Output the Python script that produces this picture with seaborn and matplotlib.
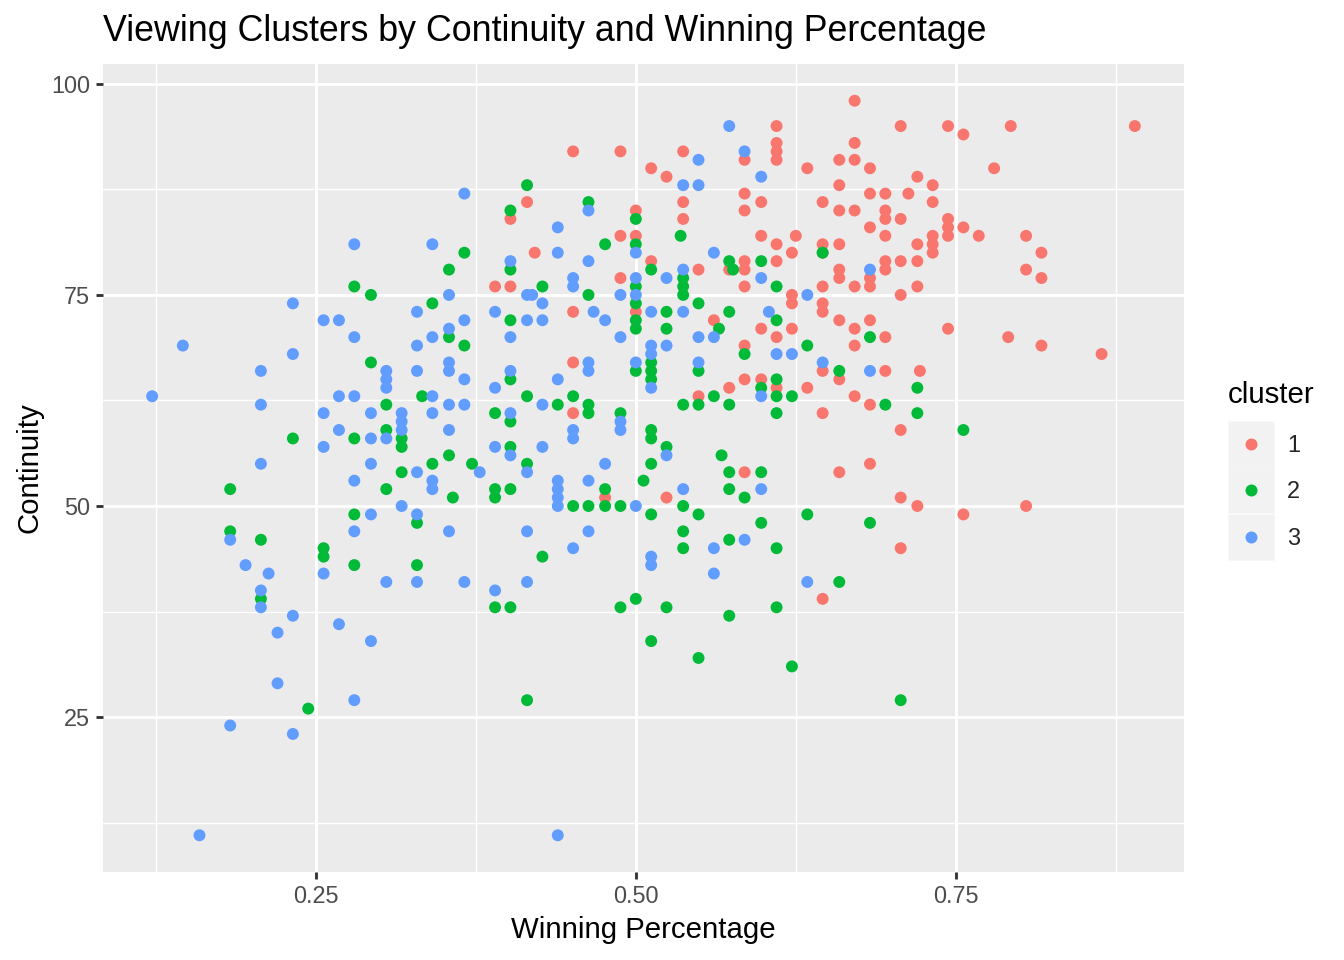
import pandas as pd
import seaborn as sns
import matplotlib.pyplot as plt
from matplotlib.lines import Line2D
from matplotlib.legend_handler import HandlerTuple

# ggplot2 hue palette for three clusters
PALETTE = ["#F8766D", "#00BA38", "#619CFF"]
CLUSTERS = ["1", "2", "3"]

# cluster 1
c1_win = [0.451, 0.488, 0.415, 0.402, 0.488, 0.421, 0.488, 0.390, 0.402, 0.451,
          0.451, 0.451, 0.476,
          0.671, 0.610, 0.610, 0.610, 0.610, 0.585, 0.671, 0.671, 0.659, 0.537, 0.512,
          0.524, 0.634, 0.683, 0.659, 0.683, 0.585, 0.537, 0.598, 0.646, 0.500,
          0.537, 0.585, 0.659, 0.671, 0.683, 0.500, 0.598, 0.625, 0.610, 0.622,
          0.646, 0.659, 0.646, 0.512, 0.573, 0.585, 0.585, 0.610, 0.549, 0.585,
          0.646, 0.671, 0.683, 0.683, 0.659, 0.659, 0.622, 0.622, 0.646, 0.646,
          0.561, 0.598, 0.622, 0.659, 0.671, 0.683, 0.610, 0.500,
          0.585, 0.671, 0.646, 0.659, 0.585, 0.598, 0.610, 0.634, 0.573, 0.549,
          0.646, 0.671, 0.683, 0.585, 0.659, 0.683, 0.524, 0.646,
          0.707, 0.744, 0.756, 0.793, 0.780, 0.720, 0.732, 0.695, 0.713, 0.732,
          0.695, 0.695, 0.707, 0.695, 0.744, 0.744, 0.744, 0.756, 0.768, 0.732,
          0.732, 0.732, 0.720, 0.805, 0.817, 0.805, 0.817, 0.695, 0.695, 0.707,
          0.720, 0.720, 0.707, 0.695, 0.744, 0.791, 0.817,
          0.864, 0.695, 0.722, 0.707, 0.707, 0.720, 0.756, 0.805, 0.707, 0.890]
c1_cont = [92, 92, 86, 84, 82, 80, 77, 76, 76, 73,
           67, 61, 51,
           98, 95, 93, 92, 91, 91, 93, 91, 91, 92, 90,
           89, 90, 90, 88, 87, 87, 86, 86, 86, 85,
           84, 85, 85, 85, 83, 82, 82, 82, 81, 80,
           81, 81, 80, 79, 78, 79, 78, 79, 78, 76,
           76, 76, 77, 76, 78, 77, 75, 74, 74, 73,
           72, 71, 71, 72, 71, 72, 70, 73,
           69, 69, 66, 65, 65, 65, 64, 64, 64, 63,
           61, 63, 62, 54, 54, 55, 51, 39,
           95, 95, 94, 95, 90, 89, 88, 87, 87, 86,
           85, 84, 84, 82, 84, 83, 82, 83, 82, 82,
           81, 80, 81, 82, 80, 78, 77, 79, 78, 79,
           79, 76, 75, 70, 71, 70, 69,
           68, 66, 66, 59, 51, 50, 49, 50, 45, 95]

# cluster 2
c2_win = [0.280, 0.293, 0.293, 0.232, 0.280, 0.183, 0.280, 0.183, 0.207, 0.256,
          0.256, 0.280, 0.207, 0.244,
          0.415, 0.463, 0.402, 0.476, 0.366, 0.354, 0.402, 0.427, 0.463, 0.341,
          0.402, 0.354,
          0.366, 0.402, 0.333, 0.415, 0.451, 0.305, 0.439, 0.463, 0.463, 0.390,
          0.402, 0.488, 0.305, 0.317, 0.317, 0.402, 0.354, 0.341, 0.372, 0.415,
          0.317, 0.305, 0.390, 0.390, 0.402, 0.357, 0.476, 0.451, 0.463, 0.476,
          0.488, 0.329, 0.427, 0.329,
          0.390, 0.402, 0.488, 0.415,
          0.500, 0.500, 0.535, 0.646, 0.512, 0.573, 0.576, 0.598, 0.537, 0.537,
          0.537, 0.610, 0.549, 0.524, 0.573, 0.610, 0.565, 0.524, 0.683, 0.500,
          0.500, 0.500, 0.500,
          0.512, 0.512, 0.512, 0.500, 0.549, 0.585, 0.634, 0.659, 0.598, 0.610,
          0.610, 0.622, 0.561, 0.537, 0.549, 0.573, 0.610, 0.512, 0.512, 0.524,
          0.512, 0.567, 0.573, 0.598, 0.506, 0.573, 0.585, 0.537, 0.512, 0.549,
          0.634, 0.598, 0.683, 0.537, 0.573, 0.537, 0.610, 0.659,
          0.500, 0.524, 0.573, 0.610, 0.512, 0.549, 0.622,
          0.720, 0.695, 0.720, 0.756, 0.707]
c2_cont = [76, 75, 67, 58, 58, 52, 49, 47, 46, 45,
           44, 43, 39, 26,
           88, 86, 85, 81, 80, 78, 78, 76, 75, 74,
           72, 70,
           69, 65, 63, 63, 63, 62, 62, 62, 61, 61,
           60, 61, 59, 58, 57, 57, 56, 55, 55, 55,
           54, 52, 52, 51, 52, 51, 52, 50, 50, 50,
           50, 48, 44, 43,
           38, 38, 38, 27,
           84, 81, 82, 80, 78, 79, 78, 79, 77, 76,
           75, 76, 74, 73, 73, 72, 71, 71, 70, 76,
           74, 72, 71,
           67, 66, 65, 66, 66, 68, 69, 66, 64, 65,
           63, 63, 63, 62, 62, 62, 61, 59, 58, 57,
           55, 56, 54, 54, 53, 52, 51, 50, 49, 49,
           49, 48, 48, 47, 46, 45, 45, 41,
           39, 38, 37, 38, 34, 32, 31,
           64, 62, 61, 59, 27]

# cluster 3
c3_win = [0.232, 0.256, 0.268, 0.280, 0.146, 0.232, 0.207, 0.122, 0.268, 0.280,
          0.207, 0.256, 0.293, 0.268, 0.293, 0.256, 0.207, 0.293, 0.280, 0.293,
          0.183, 0.280, 0.195, 0.213, 0.256, 0.207, 0.207, 0.232, 0.220, 0.268,
          0.293, 0.220, 0.280, 0.183, 0.232, 0.159, 0.280,
          0.366, 0.463, 0.439, 0.341, 0.439, 0.463, 0.402, 0.451, 0.451, 0.415,
          0.419, 0.488, 0.354, 0.427, 0.329, 0.390, 0.467, 0.476, 0.366, 0.415,
          0.427, 0.354, 0.341, 0.402, 0.488,
          0.329, 0.463, 0.463, 0.305, 0.305, 0.305, 0.329, 0.354, 0.354, 0.366,
          0.402, 0.439, 0.390, 0.341, 0.354, 0.366, 0.427, 0.317, 0.317, 0.317,
          0.341, 0.402, 0.488, 0.488, 0.305, 0.354, 0.451, 0.451, 0.390, 0.402,
          0.427, 0.378, 0.415, 0.476, 0.329, 0.341, 0.341, 0.439, 0.439, 0.439,
          0.439, 0.463, 0.317, 0.329, 0.354, 0.415, 0.463, 0.451, 0.305, 0.329,
          0.366, 0.415, 0.390, 0.439,
          0.573, 0.585, 0.549, 0.598, 0.537, 0.549, 0.500, 0.561, 0.537, 0.524,
          0.598, 0.683, 0.634, 0.512, 0.537, 0.604, 0.549, 0.561, 0.500, 0.500,
          0.512, 0.512, 0.524, 0.512, 0.500, 0.549, 0.610, 0.622, 0.646, 0.683,
          0.598, 0.524, 0.537, 0.598, 0.500, 0.585, 0.561, 0.512, 0.512, 0.561,
          0.634]
c3_cont = [74, 72, 72, 70, 69, 68, 66, 63, 63, 63,
           62, 61, 61, 59, 58, 57, 55, 55, 53, 49,
           46, 47, 43, 42, 42, 40, 38, 37, 35, 36,
           34, 29, 27, 24, 23, 11, 81,
           87, 85, 83, 81, 80, 79, 79, 77, 76, 75,
           75, 75, 75, 74, 73, 73, 73, 72, 72, 72,
           72, 71, 70, 70, 70,
           69, 67, 66, 66, 65, 64, 66, 67, 66, 65,
           66, 65, 64, 63, 62, 62, 62, 61, 60, 59,
           61, 61, 60, 59, 58, 59, 59, 58, 57, 56,
           57, 54, 54, 55, 54, 53, 52, 53, 52, 51,
           50, 53, 50, 49, 47, 47, 47, 45, 41, 41,
           41, 41, 40, 11,
           95, 92, 91, 89, 88, 88, 80, 80, 78, 77,
           77, 78, 75, 73, 73, 73, 70, 70, 77, 75,
           69, 68, 69, 64, 67, 67, 68, 68, 67, 66,
           63, 56, 52, 52, 50, 46, 45, 44, 43, 42,
           41]

X_TICKS = [0.25, 0.50, 0.75]
X_LABELS = ["0.25", "0.50", "0.75"]
Y_TICKS = [25, 50, 75, 100]

df = pd.concat([
    pd.DataFrame({"win": c1_win, "cont": c1_cont, "cluster": "1"}),
    pd.DataFrame({"win": c2_win, "cont": c2_cont, "cluster": "2"}),
    pd.DataFrame({"win": c3_win, "cont": c3_cont, "cluster": "3"}),
], ignore_index=True)

sns.set_theme(style="darkgrid")
plt.rcParams["font.family"] = ["Liberation Sans", "DejaVu Sans"]

W, H = 1344, 960
fig = plt.figure(figsize=(7, 5), dpi=192)
ax = fig.add_axes([103 / W, 1 - 872 / H, (1184 - 103) / W, (872 - 64) / H])
ax.set_facecolor("#EBEBEB")

sns.scatterplot(data=df, x="win", y="cont", hue="cluster", hue_order=CLUSTERS,
                palette=PALETTE, s=20, linewidth=0, legend=False, ax=ax, zorder=3)

# ggplot-style 5% expansion
xr = df["win"].max() - df["win"].min()
yr = df["cont"].max() - df["cont"].min()
ax.set_xlim(df["win"].min() - 0.05 * xr, df["win"].max() + 0.05 * xr)
ax.set_ylim(df["cont"].min() - 0.05 * yr, df["cont"].max() + 0.05 * yr)

ax.set_xticks(X_TICKS)
ax.set_xticklabels(X_LABELS)
ax.set_yticks(Y_TICKS)
ax.set_xticks([0.125, 0.375, 0.625, 0.875], minor=True)
ax.set_yticks([12.5, 37.5, 62.5, 87.5], minor=True)
ax.set_axisbelow(True)
ax.grid(which="major", color="white", linewidth=1.07)
ax.grid(which="minor", color="white", linewidth=0.53)
ax.tick_params(which="major", direction="out", length=2.75, width=1.07, color="#333333",
               labelsize=8.8, labelcolor="#4D4D4D", pad=2.2, bottom=True, left=True)
ax.tick_params(which="minor", length=0)
for s in ax.spines.values():
    s.set_visible(False)

ax.set_xlabel("Winning Percentage", fontsize=11, color="black", labelpad=2.75)
ax.set_ylabel("Continuity", fontsize=11, color="black", labelpad=2.75)
ax.set_title("Viewing Clusters by Continuity and Winning Percentage", loc="left",
             fontsize=13.4, color="black", pad=8.5)

# legend: grey ggplot keys behind the dots, title drawn separately
handles = [(Line2D([], [], ls="", marker="s", ms=17.28, mfc="#F2F2F2", mec="none"),
            Line2D([], [], ls="", marker="o", ms=4.5, mfc=c, mec="none")) for c in PALETTE]
leg = ax.legend(handles, CLUSTERS, handler_map={tuple: HandlerTuple(ndivide=1)},
                loc="center left", bbox_to_anchor=(1228 / W, 1 - 492 / H),
                bbox_transform=fig.transFigure, frameon=False, fontsize=8.8,
                handlelength=1.92, labelspacing=1.0, handletextpad=0.6,
                borderpad=0, borderaxespad=0)
fig.text(1228 / W, 1 - 395 / H, "cluster", fontsize=11, color="black",
         ha="left", va="center")

fig.savefig("out.png", dpi=192)
